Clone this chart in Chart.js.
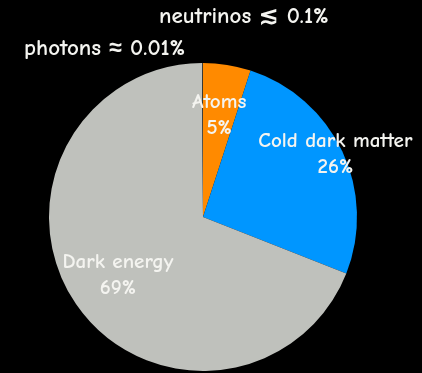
<!DOCTYPE html>
<html>
<head>
<meta charset="utf-8">
<script src="https://cdn.jsdelivr.net/npm/chart.js@4/dist/chart.umd.min.js"></script>
<style>
    html, body { margin: 0; padding: 0; background: #000; }
    #wrap { width: 422px; height: 373px; }
</style>
</head>
<body>
<div id="wrap"><canvas id="pie" width="422" height="373"></canvas></div>
<script>
// energy budget of the universe, percent
const components = ['Atoms', 'Cold dark matter', 'Dark energy', 'neutrinos'];
const shares = [5, 26, 69, 0.1];
const sliceColors = ['#ff8a00', '#0096ff', '#bfc1bc', '#3e3e38'];

// in-slice labels: [name, value text]; null = no label
const sliceLabels = [['Atoms', '5%'], ['Cold dark matter', '26%'], ['Dark energy', '69%'], null];
// how far out along the slice middle each label sits (fraction of radius)
const labelRadius = [0.67, 0.95, 0.67, 0];

// notes above the pie
const notes = ['neutrinos \u2272 0.1%', 'photons \u2248 0.01%'];

const FONT = '"Comic Sans MS", "Comic Neue", "Noto Sans", sans-serif';

const labelPlugin = {
    id: 'sliceLabels',
    afterDatasetsDraw(chart) {
        const ctx = chart.ctx;
        const arcs = chart.getDatasetMeta(0).data;
        ctx.save();
        ctx.fillStyle = '#f4f4f0';
        ctx.textAlign = 'center';
        ctx.textBaseline = 'middle';
        ctx.font = 'bold 21px ' + FONT;
        arcs.forEach((arc, i) => {
            if (!sliceLabels[i]) return;
            const mid = (arc.startAngle + arc.endAngle) / 2;
            const r = arc.outerRadius * labelRadius[i];
            const x = arc.x + Math.cos(mid) * r;
            const y = arc.y + Math.sin(mid) * r;
            ctx.fillText(sliceLabels[i][0], x, y - 13);
            ctx.fillText(sliceLabels[i][1], x, y + 13);
        });

        // notes at the top
        ctx.font = 'bold 23px ' + FONT;
        ctx.textAlign = 'left';
        ctx.fillText(notes[0], 159, 16);
        ctx.fillText(notes[1], 24, 48);
        ctx.restore();
    }
};

new Chart(document.getElementById('pie').getContext('2d'), {
    type: 'pie',
    data: {
        labels: components,
        datasets: [{
            data: shares,
            backgroundColor: sliceColors,
            borderWidth: 0
        }]
    },
    options: {
        responsive: false,
        animation: false,
        layout: {
            padding: { top: 63, bottom: 2, left: 49, right: 65 }
        },
        plugins: {
            legend: { display: false },
            tooltip: { enabled: false }
        }
    },
    plugins: [labelPlugin]
});
</script>
</body>
</html>
